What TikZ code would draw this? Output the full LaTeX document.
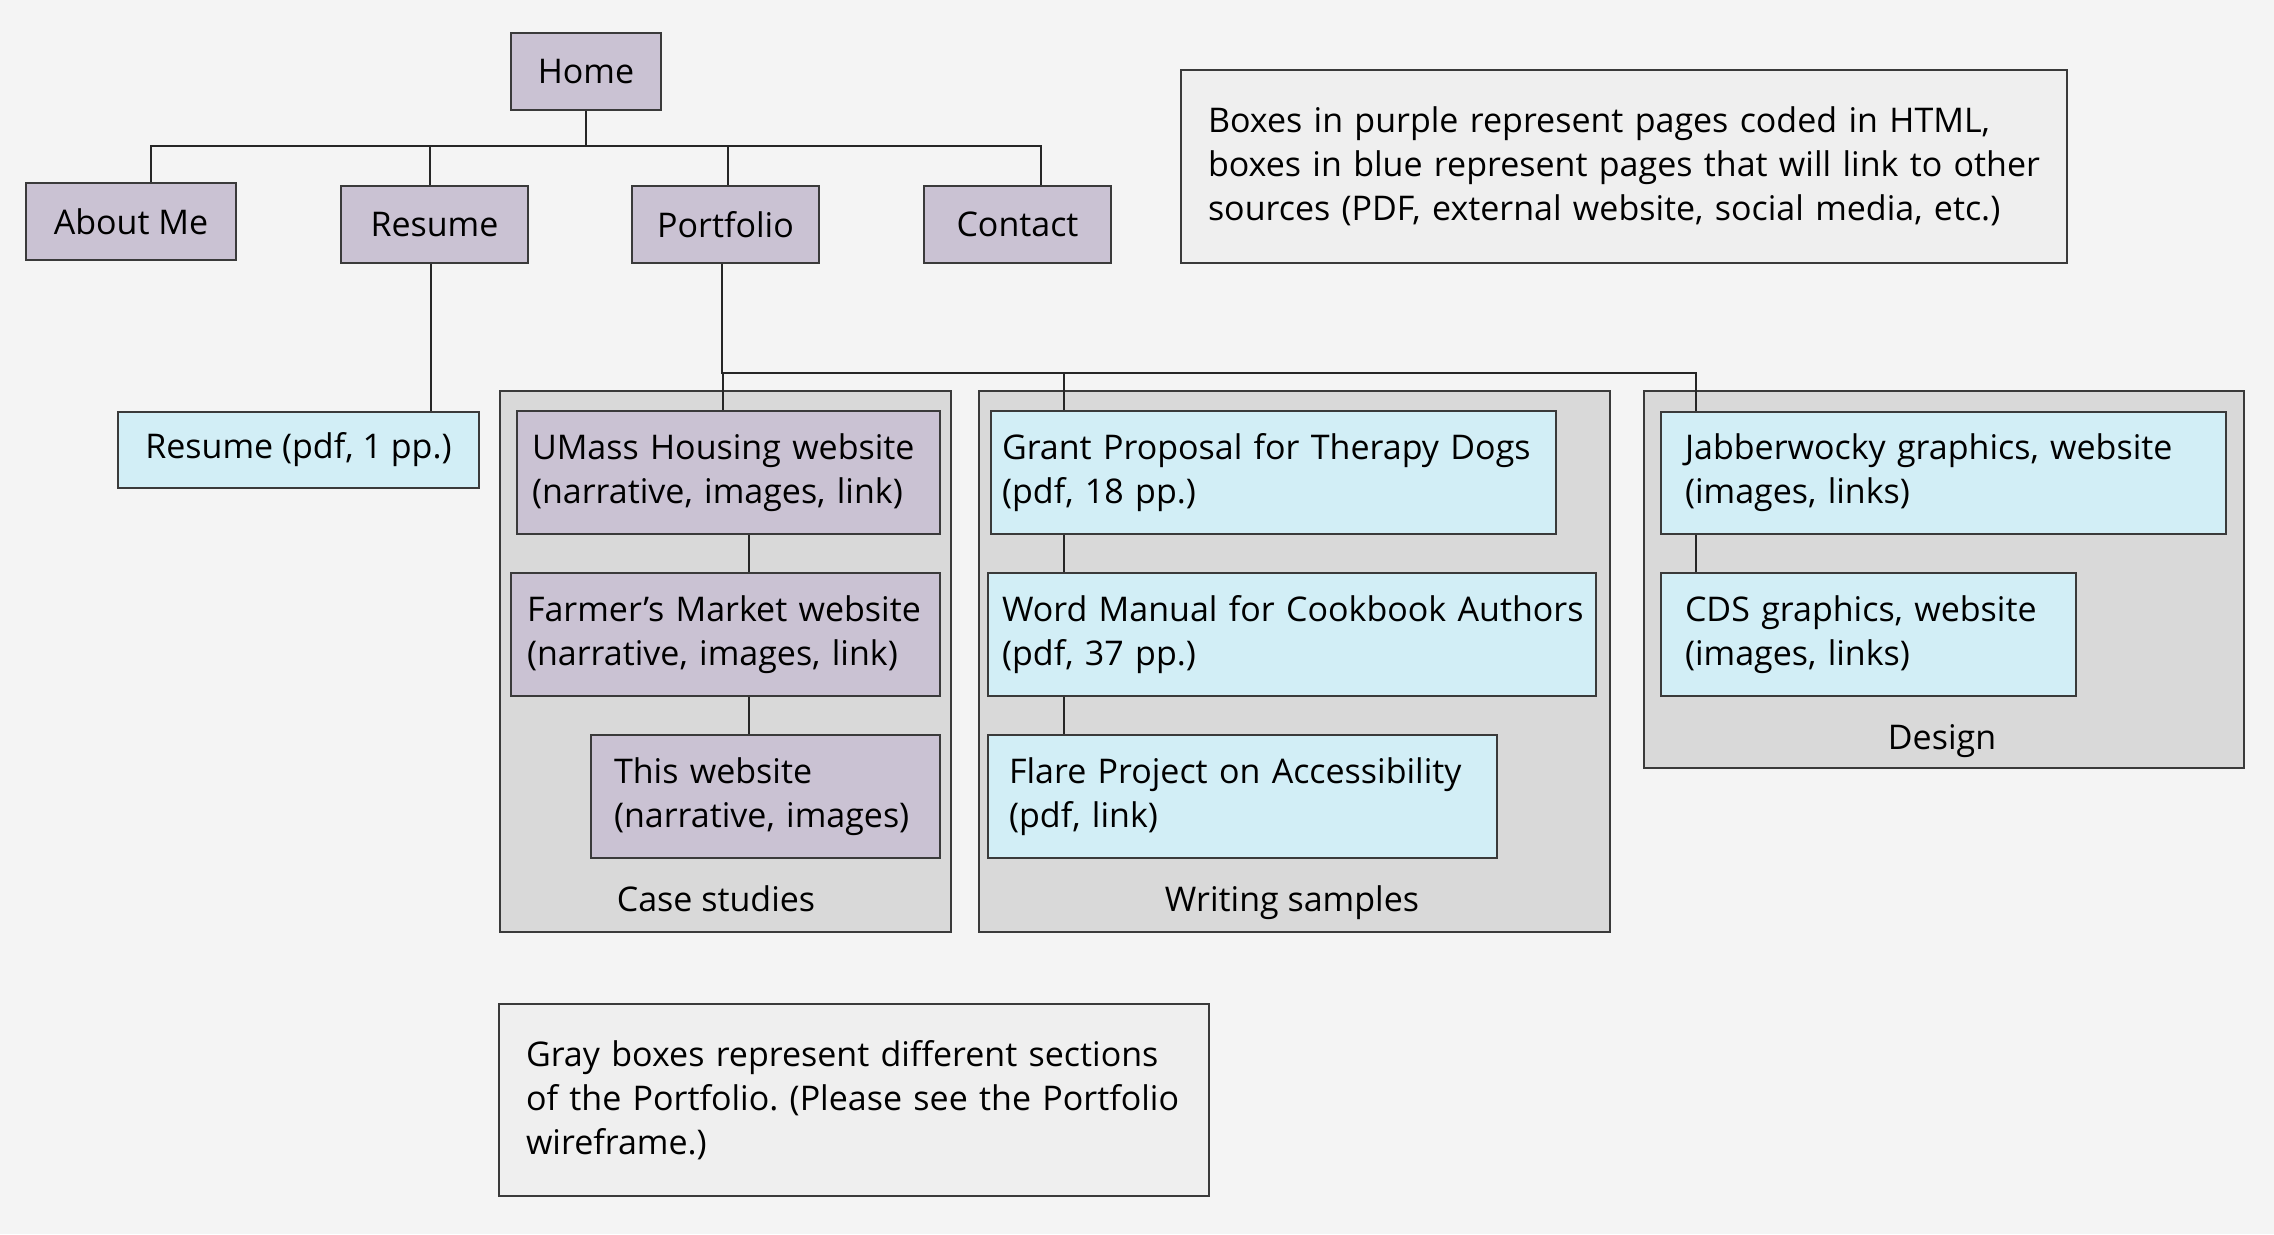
\documentclass[tikz,border=0pt]{standalone}
\usepackage{fontspec}
\setmainfont{Open Sans}
\frenchspacing
\definecolor{bg}{HTML}{F4F4F4}
\definecolor{purp}{HTML}{CAC2D3}
\definecolor{blu}{HTML}{D2EEF6}
\definecolor{sect}{HTML}{D9D9D9}
\definecolor{note}{HTML}{EFEFEF}
\definecolor{edge}{HTML}{3A3A3A}
\newcommand\Lbox[1]{\mbox{#1}}
\tikzset{
  base/.style={draw=edge, line width=2pt, anchor=north west, inner ysep=0pt, text=black,
    font=\fontsize{34}{44}\selectfont},
  pbox/.style={base, fill=purp},
  bbox/.style={base, fill=blu},
  navbox/.style={pbox, align=center, inner xsep=0pt},
  section/.style={draw=edge, line width=2pt, fill=sect, anchor=north west, inner sep=0pt},
  notebox/.style={base, fill=note, align=left},
  lbl/.style={font=\fontsize{34}{44}\selectfont, inner sep=0pt, anchor=base},
  conn/.style={draw=black!85, line width=1.5pt},
}
\begin{document}
\begin{tikzpicture}[x=1pt,y=-1pt]
\useasboundingbox[fill=bg] (0,0) rectangle (2274,1234);
% sections
\node[section, minimum width=451, minimum height=541] (cases) at (499,390) {};
\node[section, minimum width=631, minimum height=541] (writing) at (978,390) {};
\node[section, minimum width=600, minimum height=377] (design) at (1643,390) {};
\node[lbl] (caselbl) at (716,911) {Case studies};
\node[lbl] (writlbl) at (1292,911) {Writing samples};
\node[lbl] (deslbl) at (1942,749) {Design};
% top navigation
\node[navbox, minimum width=150, minimum height=77] (home) at (510,32) {Home};
\node[navbox, minimum width=210, minimum height=77] (about) at (25,182) {About Me};
\node[navbox, minimum width=187, minimum height=77] (resume) at (340,185) {Resume};
\node[navbox, minimum width=187, minimum height=77] (portfolio) at (631,185) {Portfolio};
\node[navbox, minimum width=187, minimum height=77] (contact) at (923,185) {Contact};
% pages
\node[bbox, align=center, inner xsep=0pt, minimum width=361, minimum height=76] (resumepdf) at (117,411) {Resume (pdf, 1 pp.)};
\node[pbox, align=left, text width=393, inner xsep=15, minimum height=123] (umass) at (516,410) {\Lbox{UMass Housing website}\\\Lbox{(narrative, images, link)}};
\node[pbox, align=left, text width=397, inner xsep=16, minimum height=123] (farmer) at (510,572) {\Lbox{Farmer’s Market website}\\\Lbox{(narrative, images, link)}};
\node[pbox, align=left, text width=303, inner xsep=23, minimum height=123] (thisweb) at (590,734) {\Lbox{This website}\\\Lbox{(narrative, images)}};
\node[bbox, align=left, text width=543, inner xsep=11, minimum height=123] (grant) at (990,410) {\Lbox{Grant Proposal for Therapy Dogs}\\\Lbox{(pdf, 18 pp.)}};
\node[bbox, align=left, text width=580, inner xsep=14, minimum height=123] (word) at (987,572) {\Lbox{Word Manual for Cookbook Authors}\\\Lbox{(pdf, 37 pp.)}};
\node[bbox, align=left, text width=467, inner xsep=21, minimum height=123] (flare) at (987,734) {\Lbox{Flare Project on Accessibility}\\\Lbox{(pdf, link)}};
\node[bbox, align=left, text width=517, inner xsep=24, minimum height=122] (jabber) at (1660,411) {\Lbox{Jabberwocky graphics, website}\\\Lbox{(images, links)}};
\node[bbox, align=left, text width=367, inner xsep=24, minimum height=123] (cds) at (1660,572) {\Lbox{CDS graphics, website}\\\Lbox{(images, links)}};
% notes
\node[notebox, text width=832, inner xsep=27, minimum height=193] (note1) at (1180,69) {\Lbox{Boxes in purple represent pages coded in HTML,}\\\Lbox{boxes in blue represent pages that will link to other}\\\Lbox{sources (PDF, external website, social media, etc.)}};
\node[notebox, text width=656, inner xsep=27, minimum height=192] (note2) at (498,1003) {\Lbox{Gray boxes represent different sections}\\\Lbox{of the Portfolio. (Please see the Portfolio}\\\Lbox{wireframe.)}};
% connectors
\coordinate (bus) at (584,146);
\coordinate (bus2) at (722,373);
\draw[conn] (home.south) -- (home.south |- bus);
\draw[conn] ([xshift=126pt]about.north west) |- ([xshift=118pt]contact.north west |- bus) -- ([xshift=118pt]contact.north west);
\draw[conn] ([xshift=90pt]resume.north west) -- ([xshift=90pt]resume.north west |- bus);
\draw[conn] ([xshift=97pt]portfolio.north west) -- ([xshift=97pt]portfolio.north west |- bus);
\draw[conn] ([xshift=91pt]resume.south west) -- ([xshift=314pt]resumepdf.north west);
\draw[conn] ([xshift=91pt]portfolio.south west) -- (portfolio.south west -| bus2) -- (bus2) -| ([xshift=36pt]jabber.north west);
\draw[conn] ([xshift=207pt]umass.north west |- bus2) -- ([xshift=207pt]umass.north west);
\draw[conn] ([xshift=74pt]grant.north west |- bus2) -- ([xshift=74pt]grant.north west);
\draw[conn] ([xshift=233pt]umass.south west) -- ([xshift=239pt]farmer.north west);
\draw[conn] ([xshift=239pt]farmer.south west) -- ([xshift=159pt]thisweb.north west);
\draw[conn] ([xshift=74pt]grant.south west) -- ([xshift=77pt]word.north west);
\draw[conn] ([xshift=77pt]word.south west) -- ([xshift=77pt]flare.north west);
\draw[conn] ([xshift=36pt]jabber.south west) -- ([xshift=36pt]cds.north west);
\end{tikzpicture}
\end{document}
